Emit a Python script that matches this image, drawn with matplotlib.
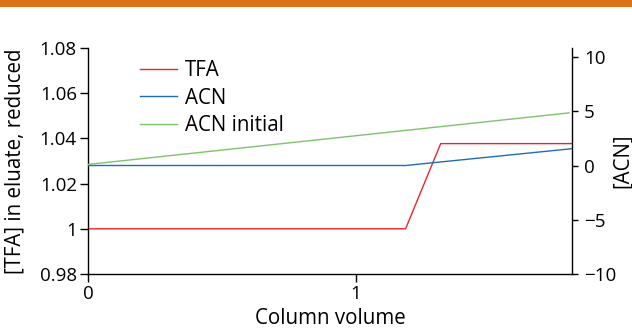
import matplotlib
matplotlib.use("Agg")
from matplotlib import pyplot as plt
from matplotlib.patches import Rectangle

# values
cv_tfa = [0, 1.185, 1.316, 1.806]
tfa = [1.0, 1.0, 1.0377, 1.0377]

cv_acn = [0, 1.185, 1.806]
acn = [0.0, 0.0, 1.55]

cv_init = [0, 1.795]
acn_init = [0.1, 4.85]

x_ticks = [0, 1]
left_ticks = [0.98, 1.0, 1.02, 1.04, 1.06, 1.08]
left_labels = ["0.98", "1", "1.02", "1.04", "1.06", "1.08"]
right_ticks = [-10, -5, 0, 5, 10]

RED = "#e8262c"
BLUE = "#1f6db4"
GREEN = "#7cc46c"
ORANGE = "#dc7319"
FS = 13.5   # tick labels
LFS = 14.8  # axis labels and legend

plt.rcParams['font.family'] = ['Open Sans', 'DejaVu Sans']
plt.rcParams['font.size'] = FS
plt.rcParams['axes.unicode_minus'] = True

fig = plt.figure(figsize=(6.32, 3.31), dpi=100)
ax = fig.add_axes([88 / 632, 1 - 274 / 331, 484 / 632, 226 / 331])
ax2 = ax.twinx()

l1, = ax.plot(cv_tfa, tfa, color=RED, lw=1.0, label="TFA")
l2, = ax2.plot(cv_acn, acn, color=BLUE, lw=1.0, label="ACN")
l3, = ax2.plot(cv_init, acn_init, color=GREEN, lw=1.0, label="ACN initial")

ax.set_xlim(0, 1.806)
ax.set_ylim(0.98, 1.08)
ax2.set_ylim(-10, 10.83)

ax.set_xticks(x_ticks)
ax.set_xticklabels([str(t) for t in x_ticks])
ax.set_yticks(left_ticks)
ax.set_yticklabels(left_labels)
ax2.set_yticks(right_ticks)
ax2.set_yticklabels([str(t).replace("-", "\u2212") for t in right_ticks])

for a in (ax, ax2):
    a.spines['top'].set_visible(False)
    for s in ('left', 'right', 'bottom'):
        a.spines[s].set_linewidth(1.0)
    a.tick_params(direction='out', length=5.5, width=1.0, pad=2.5, labelsize=FS)
ax.spines['right'].set_visible(False)
ax2.spines['left'].set_visible(False)
ax2.spines['bottom'].set_visible(False)
ax2.tick_params(length=4.5, pad=4)

ax.set_xlabel("Column volume", fontsize=LFS)
ax.xaxis.set_label_coords(0.5, -0.152)
ax.set_ylabel("[TFA] in eluate, reduced", fontsize=LFS)
ax.yaxis.set_label_coords(-0.13, 0.5)
ax2.set_ylabel("[ACN]", fontsize=LFS)
ax2.yaxis.set_label_coords(1.082, 0.5)

ax.legend(handles=[l1, l2, l3], loc='upper left', bbox_to_anchor=(0.107, 0.948),
          frameon=False, borderpad=0, borderaxespad=0, handlelength=1.8,
          handletextpad=0.4, labelspacing=0.33, fontsize=LFS)

fig.add_artist(Rectangle((0, 1 - 7 / 331), 1, 7 / 331, transform=fig.transFigure,
                         color=ORANGE, lw=0))

fig.savefig("out.png", dpi=100)
